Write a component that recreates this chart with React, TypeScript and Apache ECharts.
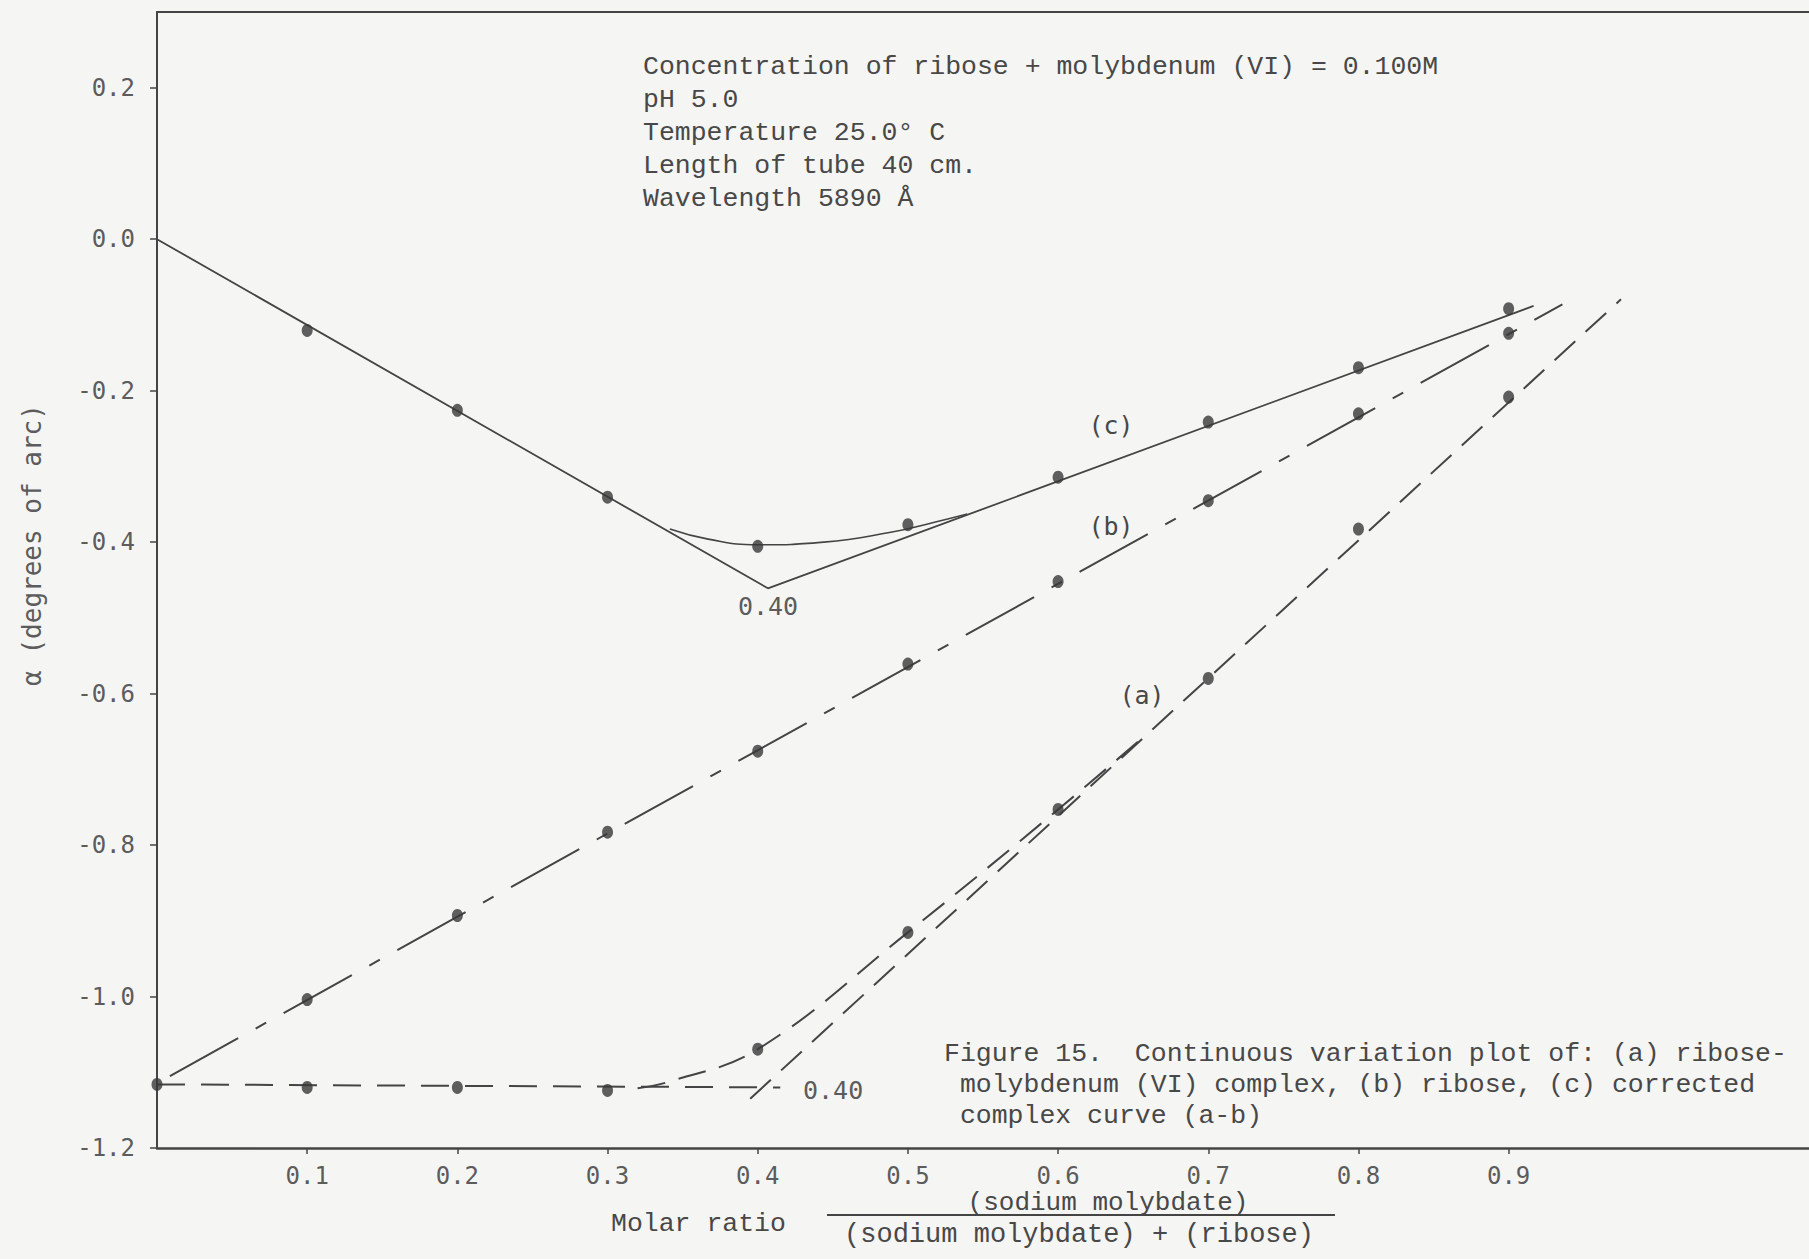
import React, { useEffect, useRef } from "react";
import * as echarts from "echarts";

// ---- data ----
const X_TICKS = [0.1, 0.2, 0.3, 0.4, 0.5, 0.6, 0.7, 0.8, 0.9];
const Y_TICKS = [-1.2, -1.0, -0.8, -0.6, -0.4, -0.2, 0.0, 0.2];

// (c) corrected complex curve (a-b)
const C_POINTS = [
  [0.1, -0.1204], [0.2, -0.226], [0.3, -0.3407], [0.4, -0.4056], [0.5, -0.377],
  [0.6, -0.3143], [0.7, -0.2415], [0.8, -0.1696], [0.9, -0.0917],
];
const C_V_LINE = [[0, 0], [0.4068, -0.461], [0.9166, -0.0881]];
const C_CURVE = [
  [0.3415, -0.3827], [0.367, -0.396], [0.4, -0.4035], [0.444, -0.4],
  [0.4886, -0.387], [0.517, -0.374], [0.5395, -0.3628],
];

// (b) ribose
const B_POINTS = [
  [0.1, -1.004], [0.2, -0.893], [0.3, -0.783], [0.4, -0.676], [0.5, -0.561],
  [0.6, -0.452], [0.7, -0.3452], [0.8, -0.2306], [0.9, -0.1243],
];
const B_LINE = [[0.0086, -1.105], [0.9358, -0.086]];

// (a) ribose-molybdenum (VI) complex
const A_POINTS = [
  [0, -1.116], [0.1, -1.12], [0.2, -1.12], [0.3, -1.124], [0.4, -1.0696],
  [0.5, -0.9153], [0.6, -0.753], [0.7, -0.58], [0.8, -0.3827], [0.9, -0.2085],
];
const A_FLAT = [[0, -1.116], [0.415, -1.12]];
const A_TANGENT = [[0.395, -1.135], [0.9748, -0.0794]];
const A_CURVE = [[0.32, -1.121], [0.34, -1.113], [0.4, -1.0696], [0.5, -0.9153], [0.6, -0.753], [0.66, -0.652]];

const INFO_LINES = [
  "Concentration of ribose + molybdenum (VI) = 0.100M",
  "pH 5.0",
  "Temperature 25.0° C",
  "Length of tube 40 cm.",
  "Wavelength 5890 Å",
];
const CAPTION_LINES = [
  "Figure 15.  Continuous variation plot of: (a) ribose-",
  " molybdenum (VI) complex, (b) ribose, (c) corrected",
  " complex curve (a-b)",
];

const INK = "#444444";
const TEXT = "#484848";
const TICK_TEXT = "#5c5c5c";
const TYPE_FONT = '"Liberation Mono", "DejaVu Sans Mono", monospace';
const SANS_MONO = '"DejaVu Sans Mono", "Liberation Mono", monospace';

export default function App() {
  const ref = useRef<HTMLDivElement>(null);

  useEffect(() => {
    if (!ref.current) return;
    const chart = echarts.init(ref.current, undefined, { renderer: "svg" });

    const lineBase = (data: number[][], type: any, width = 2, smooth: any = false) => ({
      type: "line",
      data,
      showSymbol: false,
      symbol: "none",
      smooth,
      lineStyle: { color: INK, width, type },
      silent: true,
      z: 3,
    });
    const dots = (data: number[][]) => ({
      type: "scatter",
      data,
      symbol: "circle",
      symbolSize: [11, 13],
      itemStyle: { color: "#383838" },
      silent: true,
      z: 5,
    });

    const infoTexts = INFO_LINES.map((t, i) => ({
      type: "text",
      x: 643,
      y: 67 + i * 33,
      style: { text: t, font: `26.5px ${TYPE_FONT}`, fill: TEXT, textVerticalAlign: "middle" },
    }));
    const captionTexts = CAPTION_LINES.map((t, i) => ({
      type: "text",
      x: 944,
      y: 1054 + i * 31,
      style: { text: t, font: `26.5px ${TYPE_FONT}`, fill: TEXT, textVerticalAlign: "middle" },
    }));

    const option: any = {
      animation: false,
      backgroundColor: "#f5f5f3",
      grid: { left: 157, right: -6, top: 12, bottom: 111, containLabel: false },
      xAxis: [
        {
          type: "value",
          min: 0,
          max: 1.1,
          interval: 0.1,
          position: "bottom",
          axisLine: { show: true, onZero: false, lineStyle: { color: INK, width: 2.5 } },
          axisTick: { show: true, customValues: X_TICKS, length: 6, lineStyle: { color: INK, width: 1.5 } },
          axisLabel: {
            customValues: X_TICKS,
            formatter: (v: number) => (v > 0.05 && v < 0.95 ? v.toFixed(1) : ""),
            margin: 16,
            fontFamily: SANS_MONO,
            fontSize: 24,
            color: TICK_TEXT,
          },
          splitLine: { show: false },
        },
        {
          type: "value",
          min: 0,
          max: 1.1,
          position: "top",
          axisLine: { show: true, onZero: false, lineStyle: { color: INK, width: 2 } },
          axisTick: { show: false },
          axisLabel: { show: false },
          splitLine: { show: false },
        },
      ],
      yAxis: {
        type: "value",
        min: -1.2,
        max: 0.3,
        interval: 0.2,
        axisLine: { show: true, onZero: false, lineStyle: { color: INK, width: 2 } },
        axisTick: { show: true, customValues: Y_TICKS, length: 7, lineStyle: { color: INK, width: 1.5 } },
        axisLabel: {
          customValues: Y_TICKS,
          formatter: (v: number) => (v < 0.25 ? v.toFixed(1) : ""),
          margin: 22,
          fontFamily: SANS_MONO,
          fontSize: 24,
          color: TICK_TEXT,
        },
        splitLine: { show: false },
      },
      series: [
        lineBase(C_V_LINE, "solid", 1.8),
        lineBase(C_CURVE, "solid", 1.6, 0.5),
        lineBase(B_LINE, [78, 20, 12, 20], 2),
        lineBase(A_FLAT, [28, 16], 2),
        lineBase(A_TANGENT, [28, 14], 2),
        lineBase(A_CURVE, [28, 14], 2, 0.4),
        dots(C_POINTS),
        dots(B_POINTS),
        dots(A_POINTS),
      ],
      graphic: [
        ...infoTexts,
        ...captionTexts,
        {
          type: "text",
          x: 32,
          y: 545,
          rotation: Math.PI / 2,
          style: {
            text: "α (degrees of arc)",
            font: `26px ${SANS_MONO}`,
            fill: TICK_TEXT,
            textAlign: "center",
            textVerticalAlign: "middle",
          },
        },
        { type: "text", x: 1111, y: 425, style: { text: "(c)", font: `25px ${SANS_MONO}`, fill: TEXT, textAlign: "center", textVerticalAlign: "middle" } },
        { type: "text", x: 1111, y: 526, style: { text: "(b)", font: `25px ${SANS_MONO}`, fill: TEXT, textAlign: "center", textVerticalAlign: "middle" } },
        { type: "text", x: 1142, y: 695, style: { text: "(a)", font: `25px ${SANS_MONO}`, fill: TEXT, textAlign: "center", textVerticalAlign: "middle" } },
        { type: "text", x: 768, y: 606, style: { text: "0.40", font: `25px ${SANS_MONO}`, fill: TICK_TEXT, textAlign: "center", textVerticalAlign: "middle" } },
        { type: "text", x: 803, y: 1090, style: { text: "0.40", font: `25px ${SANS_MONO}`, fill: TICK_TEXT, textAlign: "left", textVerticalAlign: "middle" } },
        { type: "text", x: 611, y: 1224, style: { text: "Molar ratio", font: `26.5px ${TYPE_FONT}`, fill: TEXT, textVerticalAlign: "middle" } },
        { type: "text", x: 1108, y: 1203, style: { text: "(sodium molybdate)", font: `26px ${TYPE_FONT}`, fill: TEXT, textAlign: "center", textVerticalAlign: "middle" } },
        { type: "line", shape: { x1: 827, y1: 1215, x2: 1335, y2: 1215 }, style: { stroke: INK, lineWidth: 2 } },
        { type: "text", x: 1079, y: 1235, style: { text: "(sodium molybdate) + (ribose)", font: `27px ${TYPE_FONT}`, fill: TEXT, textAlign: "center", textVerticalAlign: "middle" } },
      ],
    };

    chart.setOption(option);
    return () => chart.dispose();
  }, []);

  return (
    <div
      ref={ref}
      style={{ position: "absolute", left: 0, top: 0, width: 1809, height: 1259 }}
    />
  );
}
